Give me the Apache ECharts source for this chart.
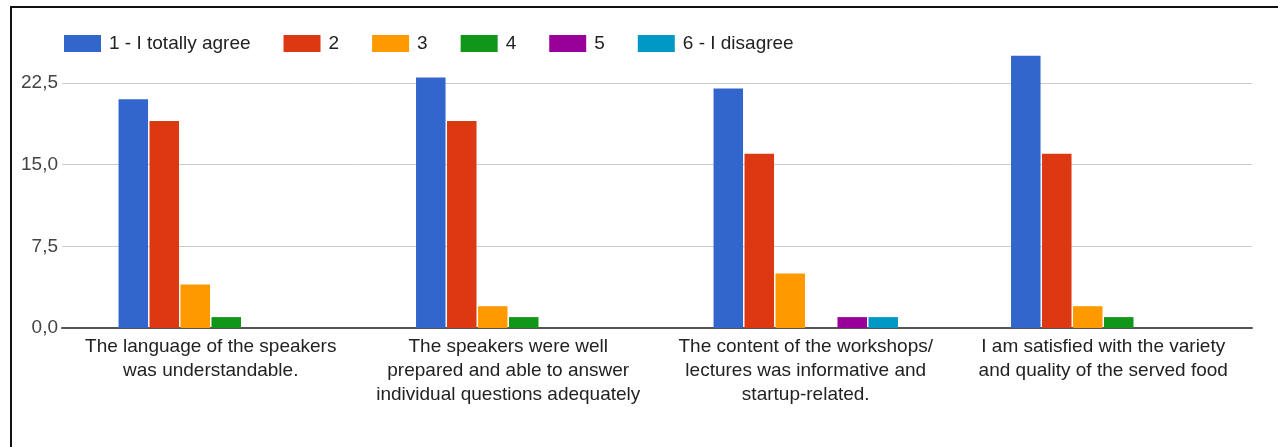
<!DOCTYPE html>
<html>
<head>
<meta charset="utf-8">
<script src="https://cdn.jsdelivr.net/npm/echarts@6/dist/echarts.min.js"></script>
<style>
html,body{margin:0;padding:0;background:#fff;}
#c{width:1278px;height:447px;}
</style>
</head>
<body>
<div id="c"></div>
<script>
const categories = [
  "The language of the speakers\nwas understandable.",
  "The speakers were well\nprepared and able to answer\nindividual questions adequately",
  "The content of the workshops/\nlectures was informative and\nstartup-related.",
  "I am satisfied with the variety\nand quality of the served food"
];
const seriesNames = ["1 - I totally agree", "2", "3", "4", "5", "6 - I disagree"];
const s1 = [21, 23, 22, 25];
const s2 = [19, 19, 16, 16];
const s3 = [4, 2, 5, 2];
const s4 = [1, 1, 0, 1];
const s5 = [0, 0, 1, 0];
const s6 = [0, 0, 1, 0];
const yTicks = [0, 7.5, 15, 22.5];

const colors = ["#3366cc", "#dc3912", "#ff9900", "#109618", "#990099", "#0099c6"];
const values = [s1, s2, s3, s4, s5, s6];
const font = "'Liberation Sans', Arial, sans-serif";

const chart = echarts.init(document.getElementById('c'), null, {renderer: 'canvas'});
chart.setOption({
  animation: false,
  color: colors,
  textStyle: {fontFamily: font},
  legend: {
    left: 64, top: 34, padding: 0,
    itemWidth: 37, itemHeight: 17, itemGap: 33,
    icon: 'rect',
    textStyle: {fontSize: 19, color: '#222', fontFamily: font, padding: [0, 0, 0, 3]},
    data: seriesNames
  },
  grid: {left: 62, right: 26, top: 83, bottom: 119, containLabel: false},
  xAxis: {
    type: 'category',
    data: categories,
    axisTick: {show: false},
    axisLine: {lineStyle: {color: '#555', width: 2}},
    axisLabel: {interval: 0, fontSize: 19, color: '#222', lineHeight: 24, margin: 7, fontFamily: font}
  },
  yAxis: {
    type: 'value',
    min: yTicks[0], max: yTicks[yTicks.length - 1], interval: yTicks[1] - yTicks[0],
    axisLine: {show: false},
    axisTick: {show: false},
    splitLine: {lineStyle: {color: '#cccccc', width: 1}},
    axisLabel: {fontSize: 19, color: '#444', margin: 4, fontFamily: font,
      formatter: v => v.toFixed(1).replace('.', ',')}
  },
  series: seriesNames.map((n, i) => ({
    name: n, type: 'bar', data: values[i], clip: false,
    barGap: '5%', barCategoryGap: '38%'
  })),
  graphic: [{
    type: 'polyline', silent: true,
    shape: {points: [[11, 447], [11, 7], [1278, 7]]},
    style: {stroke: '#111', lineWidth: 2, fill: null}
  }]
});
</script>
</body>
</html>
